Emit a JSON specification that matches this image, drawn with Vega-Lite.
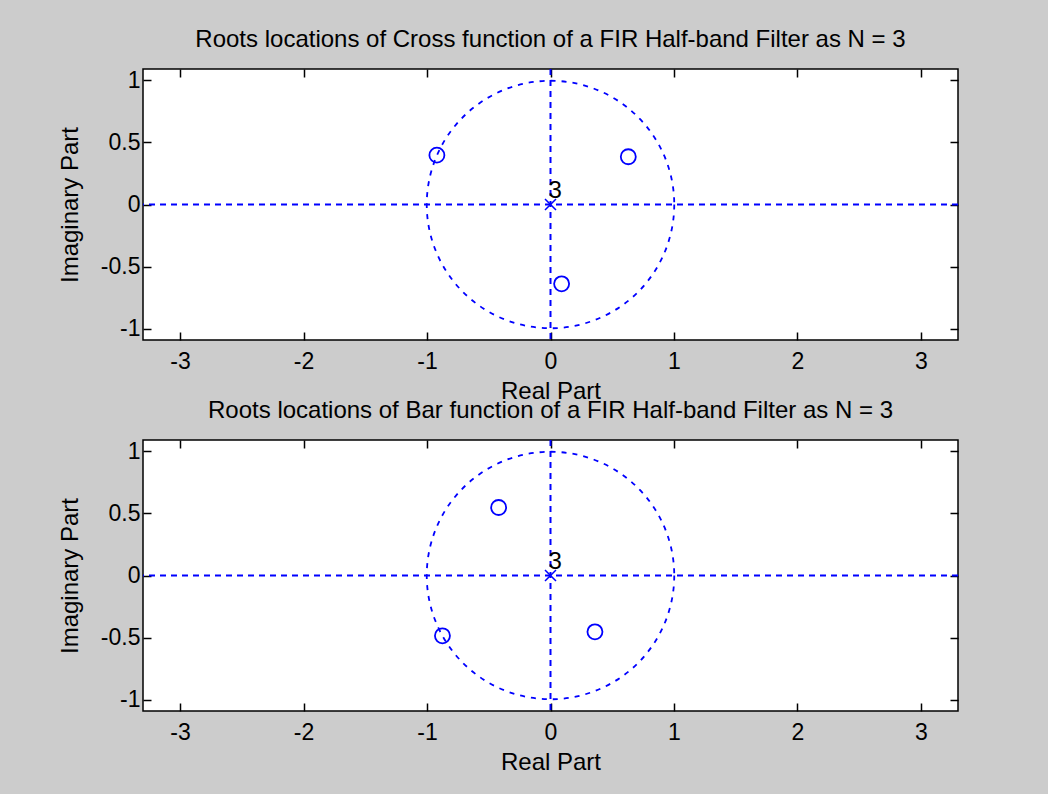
{
  "$schema": "https://vega.github.io/schema/vega-lite/v6.json",
  "background": "#cccccc",
  "padding": {"left": 57, "top": 27, "right": 89, "bottom": 20},
  "bounds": "flush",
  "spacing": 100,
  "config": {
    "view": {"stroke": "#000000", "strokeWidth": 1.5, "fill": "#ffffff"},
    "font": "Liberation Sans",
    "axis": {
      "domain": false, "grid": false,
      "tickColor": "#000000", "tickSize": -8, "tickWidth": 1.5,
      "labelFont": "Liberation Sans", "labelFontSize": 23, "labelColor": "#000000",
      "titleFont": "Liberation Sans", "titleFontSize": 24, "titleFontWeight": "normal", "titleColor": "#000000"
    },
    "axisX": {"labelPadding": 18, "titlePadding": 6},
    "axisY": {"labelPadding": 11, "titlePadding": 18},
    "title": {"font": "Liberation Sans", "fontSize": 24, "fontWeight": "normal", "color": "#000000", "anchor": "middle"}
  },
  "datasets": {
    "roots": [
      {"panel": "Cross", "kind": "unit circle", "re": 0, "im": 0, "label": ""},
      {"panel": "Cross", "kind": "zero", "re": -0.92, "im": 0.397, "label": ""},
      {"panel": "Cross", "kind": "zero", "re": 0.63, "im": 0.384, "label": ""},
      {"panel": "Cross", "kind": "zero", "re": 0.09, "im": -0.638, "label": ""},
      {"panel": "Cross", "kind": "pole", "re": 0, "im": 0, "label": "3"},
      {"panel": "Bar", "kind": "unit circle", "re": 0, "im": 0, "label": ""},
      {"panel": "Bar", "kind": "zero", "re": -0.42, "im": 0.547, "label": ""},
      {"panel": "Bar", "kind": "zero", "re": -0.875, "im": -0.485, "label": ""},
      {"panel": "Bar", "kind": "zero", "re": 0.36, "im": -0.453, "label": ""},
      {"panel": "Bar", "kind": "pole", "re": 0, "im": 0, "label": "3"}
    ]
  },
  "vconcat": [
    {
      "title": {"text": "Roots locations of Cross function of a FIR Half-band Filter as N = 3", "offset": 16},
      "width": 815, "height": 271,
      "data": {"name": "roots"},
      "transform": [{"filter": "datum.panel === 'Cross'"}],
      "resolve": {"axis": {"x": "independent", "y": "independent"}},
      "layer": [
        {
          "transform": [{"filter": "datum.kind === 'unit circle'"}],
          "mark": {"type": "point", "shape": "circle", "size": 61256, "filled": false, "stroke": "#0000ff", "strokeWidth": 1.8, "strokeDash": [5, 6], "opacity": 1},
          "encoding": {
            "x": {"field": "re", "type": "quantitative", "scale": {"domain": [-3.3, 3.3], "nice": false, "zero": false},
                  "axis": {"orient": "bottom", "values": [-3, -2, -1, 0, 1, 2, 3], "title": "Real Part", "labelExpr": "'' + datum.value"}},
            "y": {"field": "im", "type": "quantitative", "scale": {"domain": [-1.09, 1.09], "nice": false, "zero": false},
                  "axis": {"orient": "left", "values": [-1, -0.5, 0, 0.5, 1], "title": "Imaginary Part", "labelExpr": "'' + datum.value"}}
          }
        },
        {
          "transform": [{"filter": "datum.kind === 'unit circle'"}],
          "mark": {"type": "rule", "stroke": "#0000ff", "strokeWidth": 2, "strokeDash": [6, 5]},
          "encoding": {"y": {"field": "im", "type": "quantitative", "axis": null}}
        },
        {
          "transform": [{"filter": "datum.kind === 'unit circle'"}],
          "mark": {"type": "rule", "stroke": "#0000ff", "strokeWidth": 2, "strokeDash": [6, 5]},
          "encoding": {"x": {"field": "re", "type": "quantitative", "axis": null}}
        },
        {
          "transform": [{"filter": "datum.kind === 'zero'"}],
          "mark": {"type": "point", "shape": "circle", "size": 225, "filled": false, "stroke": "#0000ff", "strokeWidth": 1.8, "opacity": 1},
          "encoding": {
            "x": {"field": "re", "type": "quantitative", "axis": {"orient": "top", "values": [-3, -2, -1, 0, 1, 2, 3], "labels": false, "title": null}},
            "y": {"field": "im", "type": "quantitative", "axis": {"orient": "right", "values": [-1, -0.5, 0, 0.5, 1], "labels": false, "title": null}}
          }
        },
        {
          "transform": [{"filter": "datum.kind === 'pole'"}],
          "mark": {"type": "point", "shape": "M-1,-1L1,1M-1,1L1,-1", "size": 121, "filled": false, "stroke": "#0000ff", "strokeWidth": 1.5, "opacity": 1},
          "encoding": {
            "x": {"field": "re", "type": "quantitative", "axis": null},
            "y": {"field": "im", "type": "quantitative", "axis": null}
          }
        },
        {
          "transform": [{"filter": "datum.kind === 'pole'"}],
          "mark": {"type": "text", "align": "left", "baseline": "alphabetic", "dx": -2, "dy": -7, "fontSize": 24, "color": "#000000"},
          "encoding": {
            "x": {"field": "re", "type": "quantitative", "axis": null},
            "y": {"field": "im", "type": "quantitative", "axis": null},
            "text": {"field": "label"}
          }
        }
      ]
    },
    {
      "title": {"text": "Roots locations of Bar function of a FIR Half-band Filter as N = 3", "offset": 16},
      "width": 815, "height": 271,
      "data": {"name": "roots"},
      "transform": [{"filter": "datum.panel === 'Bar'"}],
      "resolve": {"axis": {"x": "independent", "y": "independent"}},
      "layer": [
        {
          "transform": [{"filter": "datum.kind === 'unit circle'"}],
          "mark": {"type": "point", "shape": "circle", "size": 61256, "filled": false, "stroke": "#0000ff", "strokeWidth": 1.8, "strokeDash": [5, 6], "opacity": 1},
          "encoding": {
            "x": {"field": "re", "type": "quantitative", "scale": {"domain": [-3.3, 3.3], "nice": false, "zero": false},
                  "axis": {"orient": "bottom", "values": [-3, -2, -1, 0, 1, 2, 3], "title": "Real Part", "labelExpr": "'' + datum.value"}},
            "y": {"field": "im", "type": "quantitative", "scale": {"domain": [-1.09, 1.09], "nice": false, "zero": false},
                  "axis": {"orient": "left", "values": [-1, -0.5, 0, 0.5, 1], "title": "Imaginary Part", "labelExpr": "'' + datum.value"}}
          }
        },
        {
          "transform": [{"filter": "datum.kind === 'unit circle'"}],
          "mark": {"type": "rule", "stroke": "#0000ff", "strokeWidth": 2, "strokeDash": [6, 5]},
          "encoding": {"y": {"field": "im", "type": "quantitative", "axis": null}}
        },
        {
          "transform": [{"filter": "datum.kind === 'unit circle'"}],
          "mark": {"type": "rule", "stroke": "#0000ff", "strokeWidth": 2, "strokeDash": [6, 5]},
          "encoding": {"x": {"field": "re", "type": "quantitative", "axis": null}}
        },
        {
          "transform": [{"filter": "datum.kind === 'zero'"}],
          "mark": {"type": "point", "shape": "circle", "size": 225, "filled": false, "stroke": "#0000ff", "strokeWidth": 1.8, "opacity": 1},
          "encoding": {
            "x": {"field": "re", "type": "quantitative", "axis": {"orient": "top", "values": [-3, -2, -1, 0, 1, 2, 3], "labels": false, "title": null}},
            "y": {"field": "im", "type": "quantitative", "axis": {"orient": "right", "values": [-1, -0.5, 0, 0.5, 1], "labels": false, "title": null}}
          }
        },
        {
          "transform": [{"filter": "datum.kind === 'pole'"}],
          "mark": {"type": "point", "shape": "M-1,-1L1,1M-1,1L1,-1", "size": 121, "filled": false, "stroke": "#0000ff", "strokeWidth": 1.5, "opacity": 1},
          "encoding": {
            "x": {"field": "re", "type": "quantitative", "axis": null},
            "y": {"field": "im", "type": "quantitative", "axis": null}
          }
        },
        {
          "transform": [{"filter": "datum.kind === 'pole'"}],
          "mark": {"type": "text", "align": "left", "baseline": "alphabetic", "dx": -2, "dy": -7, "fontSize": 24, "color": "#000000"},
          "encoding": {
            "x": {"field": "re", "type": "quantitative", "axis": null},
            "y": {"field": "im", "type": "quantitative", "axis": null},
            "text": {"field": "label"}
          }
        }
      ]
    }
  ]
}
